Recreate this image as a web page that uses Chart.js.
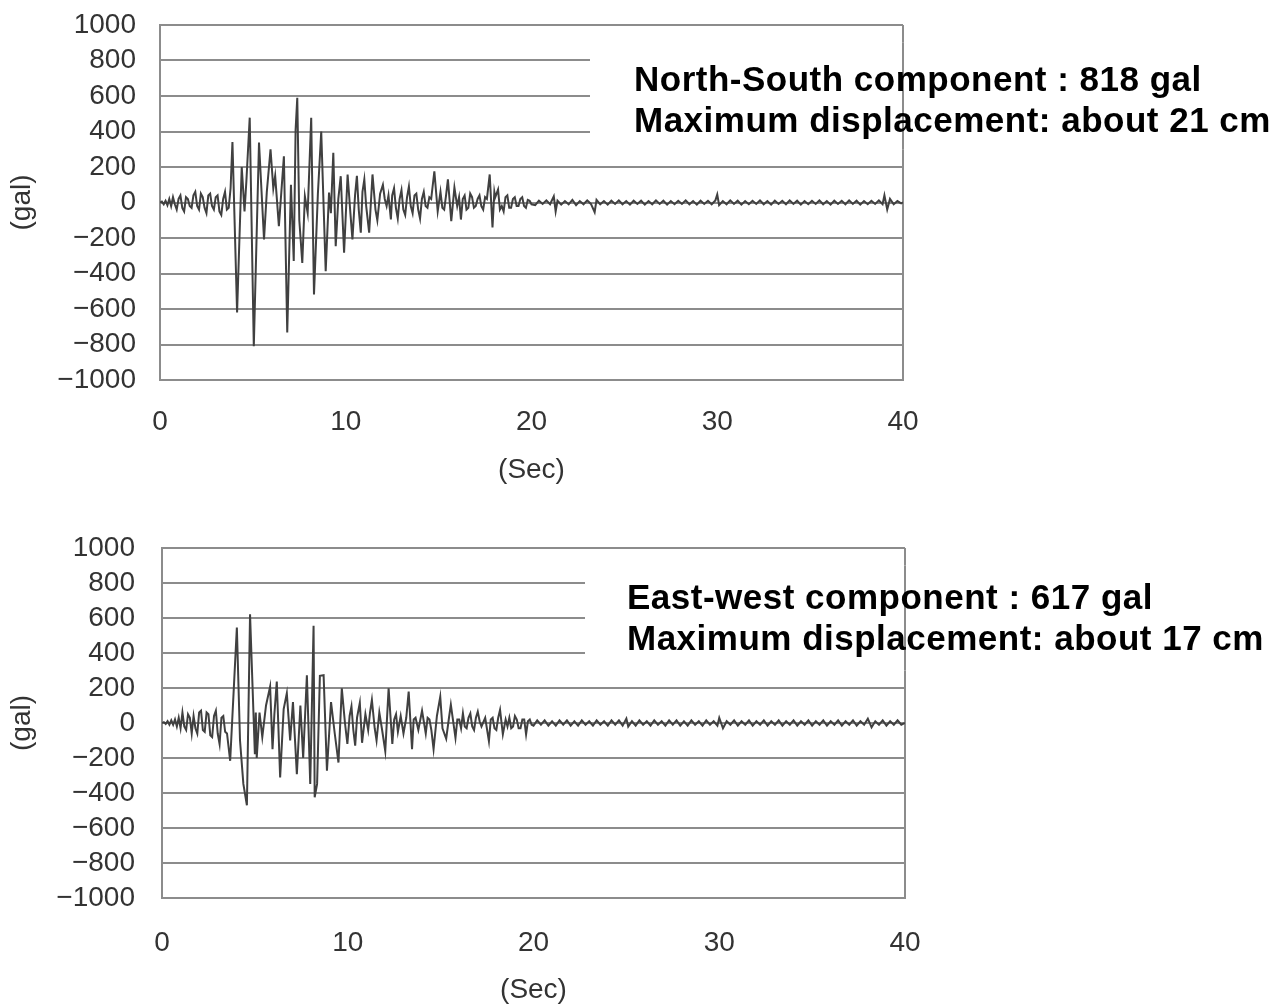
<!DOCTYPE html>
<html>
<head>
<meta charset="utf-8">
<script src="https://cdn.jsdelivr.net/npm/chart.js@4.4.0/dist/chart.umd.min.js"></script>
<style>
  html, body { margin: 0; padding: 0; background: #fff; overflow: hidden; }
  canvas { position: absolute; left: 0; }
  #nsCanvas { top: 0; }
  #ewCanvas { top: 520px; }
</style>
</head>
<body>
<canvas id="nsCanvas" width="1278" height="500"></canvas>
<canvas id="ewCanvas" width="1278" height="500"></canvas>
<script>
// === Axis ticks ===
const xTicks = [0, 10, 20, 30, 40];
const yTicks = [-1000, -800, -600, -400, -200, 0, 200, 400, 600, 800, 1000];

// === North-South record: [sec, gal] ===
const nsRecord = [
  [0, 0], [0.1, 5], [0.2, -10], [0.3, 10], [0.4, -15], [0.5, 20], [0.6, -20], [0.7, 30], [0.8, -10], [0.9, -40],
  [1.0, 20], [1.1, 40], [1.2, -30], [1.3, -50], [1.4, 30], [1.5, 20], [1.6, -20], [1.7, -30], [1.8, 40], [1.9, 60],
  [2.0, -20], [2.1, -40], [2.2, 50], [2.3, 30], [2.4, -30], [2.5, -60], [2.6, 40], [2.7, 50], [2.8, -20], [2.9, -40],
  [3.0, 30], [3.1, 40], [3.2, -50], [3.3, -70], [3.4, 20], [3.5, 60], [3.6, -40], [3.7, -30], [3.8, 80],
  [3.9, 340], [4.15, -620], [4.4, 200], [4.55, -50], [4.65, 120], [4.83, 478], [5.05, -810], [5.33, 338], [5.6, -208], [5.75, 60],
  [5.95, 300], [6.1, 80], [6.2, 150], [6.4, -133], [6.67, 260], [6.85, -732], [7.05, 100], [7.2, -330], [7.3, 410], [7.39, 590],
  [7.5, -100], [7.66, -340], [7.8, 35], [7.95, -60], [8.14, 477], [8.29, -518], [8.5, 50], [8.68, 400], [8.92, -387], [9.1, 56],
  [9.2, -60], [9.33, 280], [9.46, -246], [9.6, 20], [9.73, 148], [9.91, -283], [10.1, 158], [10.25, -60], [10.36, -208], [10.5, 40],
  [10.6, 150], [10.7, -40], [10.81, -170], [10.9, 60], [11.0, 130], [11.1, -20], [11.26, -170], [11.44, 158], [11.6, -40], [11.7, -100],
  [11.85, 50], [12.0, 100], [12.1, 20], [12.2, -20], [12.3, 40], [12.43, -95], [12.5, 40], [12.6, 80], [12.7, -30], [12.8, -90],
  [12.9, 20], [13.0, 70], [13.1, -40], [13.2, -70], [13.3, 30], [13.4, 90], [13.5, -20], [13.6, -60], [13.7, 40], [13.8, 50],
  [13.9, -40], [14.0, -90], [14.1, 20], [14.2, 60], [14.3, -20], [14.4, -30], [14.5, 30], [14.6, 20], [14.77, 176], [14.95, -50],
  [15.1, 60], [15.2, -30], [15.3, -40], [15.4, 40], [15.5, 130], [15.68, -105], [15.85, 84], [16.0, -20], [16.1, 30], [16.2, -96],
  [16.3, 20], [16.4, 40], [16.5, -40], [16.6, -30], [16.7, 50], [16.8, 30], [16.9, -30], [17.0, -20], [17.1, 20], [17.2, 40],
  [17.3, -20], [17.4, -40], [17.5, 30], [17.6, 20], [17.75, 158], [17.9, -140], [18.0, 60], [18.05, 30], [18.2, 73], [18.3, -40],
  [18.4, -20], [18.5, -50], [18.6, 30], [18.7, 40], [18.8, -30], [18.9, -30], [19.0, 20], [19.1, 30], [19.2, -20], [19.3, -20],
  [19.4, 20], [19.5, 30], [19.6, -20], [19.7, -30], [19.8, 15], [19.9, 10], [20.0, -10],
  [20.2, -15], [20.4, 10], [20.6, -8], [20.8, 12], [21.0, -10], [21.2, 35], [21.3, -50], [21.4, 10], [21.6, -12], [21.8, 8],
  [22.0, -10], [22.2, 15], [22.4, -15], [22.6, 8], [22.8, -10], [23.0, 12], [23.2, -8], [23.4, -55], [23.5, 15], [23.7, -10],
  [23.9, 8], [24.1, -12], [24.3, 10], [24.5, -8], [24.7, 12], [24.9, -10], [25.1, 8], [25.3, -12], [25.5, 10], [25.7, -8],
  [25.9, 10], [26.1, -12], [26.3, 8], [26.5, -10], [26.7, 12], [26.9, -8], [27.1, 10], [27.3, -12], [27.5, 8], [27.7, -10],
  [27.9, 10], [28.1, -8], [28.3, 12], [28.5, -10], [28.7, 8], [28.9, -12], [29.1, 10], [29.3, -8], [29.5, 10], [29.7, -10],
  [29.9, 12], [30.0, 45], [30.1, -15], [30.3, 8], [30.5, -10], [30.7, 12], [30.9, -8], [31.1, 10], [31.3, -12], [31.5, 8],
  [31.7, -10], [31.9, 10], [32.1, -8], [32.3, 12], [32.5, -10], [32.7, 8], [32.9, -12], [33.1, 10], [33.3, -8], [33.5, 10],
  [33.7, -10], [33.9, 12], [34.1, -8], [34.3, 10], [34.5, -12], [34.7, 8], [34.9, -10], [35.1, 10], [35.3, -8], [35.5, 12],
  [35.7, -10], [35.9, 8], [36.1, -12], [36.3, 10], [36.5, -8], [36.7, 10], [36.9, -10], [37.1, 12], [37.3, -8], [37.5, 10],
  [37.7, -12], [37.9, 8], [38.1, -10], [38.3, 10], [38.5, -8], [38.7, 12], [38.9, -10], [39.0, 40], [39.15, -40], [39.3, 20],
  [39.5, -10], [39.7, 8], [39.9, -5], [40, 0]
];

// === East-West record: [sec, gal] ===
const ewRecord = [
  [0, 0], [0.1, 5], [0.2, -5], [0.3, 10], [0.4, -10], [0.5, 15], [0.6, -10], [0.7, 20], [0.8, -20], [0.9, 30],
  [1.0, -30], [1.1, 60], [1.2, -20], [1.3, -40], [1.4, 50], [1.5, 30], [1.6, -60], [1.7, 40], [1.8, -30], [1.9, -60],
  [2.0, 60], [2.1, 70], [2.2, -40], [2.3, -50], [2.4, 60], [2.5, 50], [2.6, -70], [2.7, -80], [2.8, 40], [2.9, 70],
  [3.0, -60], [3.1, -120], [3.2, 30], [3.3, 40], [3.4, -50], [3.5, -60], [3.67, -216], [4.03, 546], [4.2, -100], [4.38, -348],
  [4.57, -470], [4.74, 621], [5.0, -179], [5.05, 60], [5.1, -200], [5.25, 60], [5.4, -80], [5.6, 100], [5.82, 208], [5.95, -150],
  [6.05, 50], [6.18, 237], [6.36, -311], [6.55, 80], [6.72, 170], [6.9, -100], [7.05, 120], [7.26, -292], [7.45, 100], [7.6, -200],
  [7.8, 273], [7.98, -348], [8.16, 556], [8.22, -424], [8.35, -348], [8.5, 270], [8.7, 273], [8.88, -272], [9.1, 120], [9.3, -60],
  [9.5, -226], [9.68, 198], [9.85, 0], [9.98, -120], [10.1, 40], [10.2, 95], [10.3, -40], [10.4, -130], [10.5, 30], [10.65, 115],
  [10.77, -113], [10.95, 50], [11.1, -40], [11.2, 60], [11.3, 132], [11.45, -30], [11.55, -100], [11.7, 60], [11.85, -40], [12.02, -160],
  [12.2, 198], [12.4, -120], [12.5, 20], [12.6, 50], [12.7, -50], [12.85, 40], [13.0, -60], [13.15, 30], [13.28, 180], [13.46, -150],
  [13.55, 20], [13.65, 30], [13.8, -40], [14.0, 70], [14.2, -60], [14.3, 30], [14.4, 20], [14.5, -40], [14.62, -150], [14.8, 40],
  [14.98, 150], [15.1, -30], [15.3, -90], [15.45, 30], [15.55, 105], [15.8, -85], [15.9, 20], [16.0, 20], [16.1, -30], [16.2, 55],
  [16.3, -20], [16.4, -30], [16.5, 30], [16.6, 55], [16.7, -20], [16.8, -40], [16.9, 30], [17.0, 65], [17.1, 10], [17.2, -20],
  [17.4, 30], [17.6, -104], [17.7, 20], [17.8, 30], [17.9, -30], [18.0, -40], [18.1, 30], [18.2, 75], [18.35, -65], [18.5, 20],
  [18.6, -20], [18.7, 30], [18.8, -30], [18.9, -20], [19.0, 40], [19.1, 20], [19.2, -30], [19.3, -30], [19.4, 20], [19.5, 20],
  [19.6, -65], [19.7, 10], [19.8, 20], [19.9, -10],
  [20.0, -15], [20.2, 15], [20.4, -10], [20.6, 15], [20.8, -15], [21.0, 10], [21.2, -15], [21.4, 15], [21.6, -10], [21.8, 15],
  [22.0, -15], [22.2, 10], [22.4, -15], [22.6, 15], [22.8, -10], [23.0, 10], [23.2, -15], [23.4, 15], [23.6, -10], [23.8, 10],
  [24.0, -15], [24.2, 15], [24.4, -10], [24.6, 15], [24.8, -15], [25.0, 25], [25.1, -20], [25.3, 10], [25.5, -15], [25.7, 15],
  [25.9, -10], [26.1, 10], [26.3, -15], [26.5, 15], [26.7, -10], [26.9, 10], [27.1, -15], [27.3, 15], [27.5, -10], [27.7, 15],
  [27.9, -15], [28.1, 10], [28.3, -15], [28.5, 15], [28.7, -10], [28.9, 10], [29.1, -15], [29.3, 15], [29.5, -10], [29.7, 10],
  [29.9, -15], [30.0, 30], [30.2, -30], [30.4, 10], [30.6, -10], [30.8, 15], [31.0, -15], [31.2, 10], [31.4, -10], [31.6, 15],
  [31.8, -15], [32.0, 10], [32.2, -10], [32.4, 15], [32.6, -15], [32.8, 10], [33.0, -10], [33.2, 15], [33.4, -15], [33.6, 10],
  [33.8, -10], [34.0, 15], [34.2, -15], [34.4, 10], [34.6, -10], [34.8, 15], [35.0, -15], [35.2, 10], [35.4, -10], [35.6, 15],
  [35.8, -15], [36.0, 10], [36.2, -10], [36.4, 15], [36.6, -15], [36.8, 10], [37.0, -10], [37.2, 15], [37.4, -15], [37.6, 10],
  [37.8, -10], [38.0, 25], [38.2, -25], [38.4, 10], [38.6, -10], [38.8, 15], [39.0, -15], [39.2, 10], [39.4, -10], [39.6, 15],
  [39.8, -10], [40, 0]
];

// === Annotation text ===
const nsLabel = ['North-South component : 818 gal', 'Maximum displacement: about 21 cm'];
const ewLabel = ['East-west component : 617 gal', 'Maximum displacement: about 17 cm'];

const FONT = '"Liberation Sans", Arial, sans-serif';
const GRID = '#8c8c8c';
const INK = '#333';

// white patch behind the caption (hides grid lines), then re-draw right border
const captionPlugin = {
  id: 'caption',
  beforeDatasetsDraw(chart, args, o) {
    const c = chart.ctx, a = chart.chartArea, y = chart.scales.y;
    const top = y.getPixelForValue(900), bot = y.getPixelForValue(300);
    c.save();
    c.fillStyle = '#fff';
    c.fillRect(o.boxX, top, chart.width - o.boxX, bot - top);
    c.strokeStyle = GRID;
    c.lineWidth = 2;
    c.beginPath();
    c.moveTo(a.right, top);
    c.lineTo(a.right, bot);
    c.stroke();
    c.restore();
  },
  afterDraw(chart, args, o) {
    const c = chart.ctx;
    c.save();
    c.fillStyle = '#000';
    c.font = 'bold 35px ' + FONT;
    c.letterSpacing = '0.5px';
    c.textBaseline = 'middle';
    o.lines.forEach((t, i) => c.fillText(t, o.textX, o.textY + i * 41));
    c.restore();
  }
};

function makeChart(id, record, cfg) {
  const pts = record.map(([t, g]) => ({ x: t, y: g }));
  return new Chart(document.getElementById(id), {
    type: 'line',
    data: {
      datasets: [{
        data: pts,
        borderColor: '#404040',
        borderWidth: 2,
        pointRadius: 0,
        tension: 0
      }]
    },
    options: {
      responsive: false,
      animation: false,
      layout: { padding: { top: cfg.padTop, right: cfg.padRight, bottom: 0, left: 0 } },
      plugins: {
        legend: { display: false },
        tooltip: { enabled: false },
        caption: cfg.caption
      },
      scales: {
        x: {
          type: 'linear', min: 0, max: 40,
          afterBuildTicks: s => { s.ticks = xTicks.map(v => ({ value: v })); },
          afterFit: s => { s.height = 500 - cfg.plotBottom; },
          grid: {
            drawTicks: false,
            lineWidth: 2,
            color: c => (c.tick && c.tick.value === 40 ? GRID : 'rgba(0,0,0,0)')
          },
          border: { color: GRID, width: 2 },
          ticks: { autoSkip: false, maxRotation: 0, padding: cfg.xPad, color: INK, font: { family: FONT, size: 28 } },
          title: { display: true, text: '(Sec)', color: INK, font: { family: FONT, size: 28 }, padding: { top: 0, bottom: 13 } }
        },
        y: {
          min: -1000, max: 1000,
          afterBuildTicks: s => { s.ticks = yTicks.map(v => ({ value: v })); },
          // fixed width; drop the label-overflow padding so the plot top is set by layout.padding
          afterFit: s => { s.width = cfg.plotLeft; s.paddingTop = 0; s.paddingBottom = 0; },
          grid: { drawTicks: false, lineWidth: 2, color: GRID },
          border: { color: GRID, width: 2 },
          ticks: {
            autoSkip: false, padding: cfg.yPad, color: INK, font: { family: FONT, size: 28 },
            callback: v => String(v).replace('-', '\u2212')
          },
          title: { display: true, text: '(gal)', color: INK, font: { family: FONT, size: 28 }, padding: { top: 5, bottom: 0 } }
        }
      }
    },
    plugins: [captionPlugin]
  });
}

makeChart('nsCanvas', nsRecord, {
  padTop: 25, padRight: 375, plotLeft: 160, plotBottom: 380, xPad: 25, yPad: 24,
  caption: { lines: nsLabel, textX: 634, textY: 81, boxX: 590 }
});

makeChart('ewCanvas', ewRecord, {
  padTop: 28, padRight: 373, plotLeft: 162, plotBottom: 378, xPad: 28, yPad: 27,
  caption: { lines: ewLabel, textX: 627, textY: 79, boxX: 585 }
});
</script>
</body>
</html>
